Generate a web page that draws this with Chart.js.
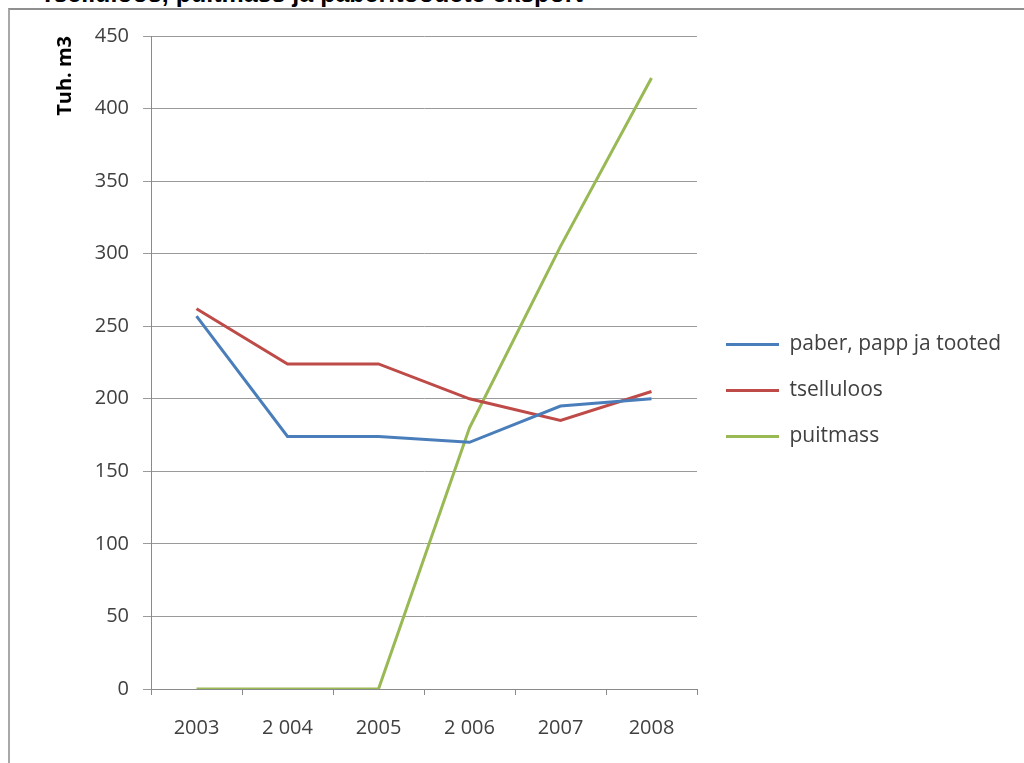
<!DOCTYPE html>
<html>
<head>
<meta charset="utf-8">
<script src="https://cdn.jsdelivr.net/npm/chart.js@4.4.1/dist/chart.umd.min.js"></script>
<style>
  html, body { margin: 0; padding: 0; background: #fff; overflow: hidden; }
  #wrap { position: relative; width: 1024px; height: 763px; }
  #frame { position: absolute; left: 8px; top: 8px; width: 1020px; height: 760px;
           border-top: 2px solid #8f8f8f; border-left: 2px solid #a8a8a8; }
  #title { position: absolute; left: 40px; top: -21px; font: bold 25px "Liberation Sans", Arial, sans-serif;
           color: #000; white-space: nowrap; }
  #c { position: absolute; left: 0; top: 0; }
</style>
</head>
<body>
<div id="wrap">
  <div id="title">Tselluloos, puitmass ja paberitoodete eksport</div>
  <div id="frame"></div>
  <canvas id="c" width="1024" height="763"></canvas>
</div>
<script>
const years = ['2003', '2 004', '2005', '2 006', '2007', '2008'];
const paberPapp = [257, 174, 174, 170, 195, 200];
const tselluloos = [262, 224, 224, 200, 185, 205];
const puitmass = [0, 0, 0, 180, 305, 421];
const yTicks = [0, 450, 50];

// keep the legend column the same width as in the original sheet
const legendBox = {
    id: 'legendBox',
    beforeLayout(chart) {
        const lg = chart.legend;
        if (lg && !lg._fixed) {
            const fit = lg.fit;
            lg.fit = function () {
                fit.call(this);
                this.width = 327;
            };
            lg._fixed = true;
        }
    },
    afterLayout(chart) {
        const lg = chart.legend;
        lg.top -= 9;
        lg.bottom -= 9;
        lg.left += 4;
        lg.right += 4;
    }
};

document.addEventListener('DOMContentLoaded', function () {
    const ctx = document.getElementById('c').getContext('2d');
    const font = { family: '"Open Sans", sans-serif', size: 20 };

    new Chart(ctx, {
        type: 'line',
        data: {
            labels: years,
            datasets: [{
                label: 'paber, papp ja tooted',
                data: paberPapp,
                borderColor: '#4a7ebb',
                borderWidth: 3,
                pointRadius: 0,
                fill: false
            }, {
                label: 'tselluloos',
                data: tselluloos,
                borderColor: '#be4b48',
                borderWidth: 3,
                pointRadius: 0,
                fill: false
            }, {
                label: 'puitmass',
                data: puitmass,
                borderColor: '#98b954',
                borderWidth: 3,
                pointRadius: 0,
                fill: false
            }]
        },
        plugins: [legendBox],
        options: {
            responsive: false,
            animation: false,
            layout: { padding: { left: 0, top: 36, right: 0, bottom: 0 } },
            plugins: {
                legend: {
                    position: 'right',
                    labels: {
                        usePointStyle: true,
                        pointStyle: 'line',
                        pointStyleWidth: 53,
                        padding: 25,
                        color: '#404040',
                        font: { family: '"Open Sans", sans-serif', size: 21 }
                    }
                },
                tooltip: { enabled: false }
            },
            scales: {
                x: {
                    offset: true,
                    grid: {
                        offset: true,
                        drawOnChartArea: false,
                        tickLength: 6,
                        color: '#8a8a8a'
                    },
                    border: { color: '#8a8a8a' },
                    ticks: { color: '#404040', font: font, padding: 21, maxRotation: 0 },
                    afterFit: function (s) { s.height = 74; }
                },
                y: {
                    min: yTicks[0],
                    max: yTicks[1],
                    ticks: { stepSize: yTicks[2], color: '#404040', font: font, padding: 14 },
                    grid: { color: '#9a9a9a', tickLength: 8 },
                    border: { color: '#8a8a8a' },
                    title: {
                        display: true,
                        text: 'Tuh. m3',
                        align: 'end',
                        color: '#000',
                        padding: { top: 53, bottom: 4 },
                        font: { family: '"Open Sans", sans-serif', size: 20, weight: 'bold' }
                    },
                    afterFit: function (s) { s.width = 151; }
                }
            }
        }
    });
});
</script>
</body>
</html>
